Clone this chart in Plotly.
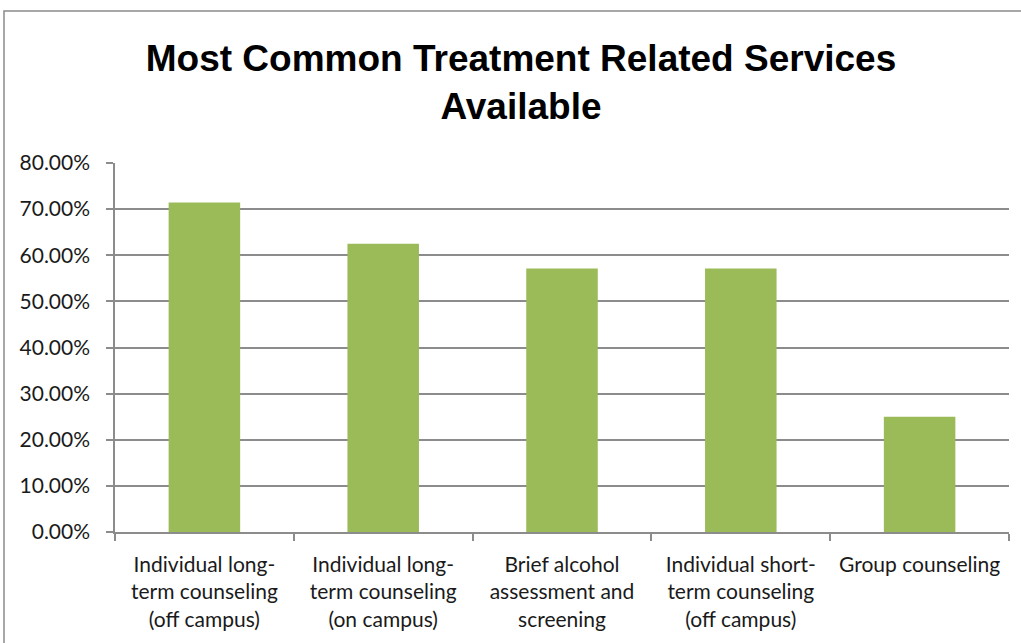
import plotly.graph_objects as go

categories = [
    "Individual long-<br>term counseling<br>(off campus)",
    "Individual long-<br>term counseling<br>(on campus)",
    "Brief alcohol<br>assessment and<br>screening",
    "Individual short-<br>term counseling<br>(off campus)",
    "Group counseling",
]
shares = [0.7143, 0.6250, 0.5714, 0.5714, 0.2500]
y_ticks = [0.0, 0.1, 0.2, 0.3, 0.4, 0.5, 0.6, 0.7, 0.8]

W, H = 1021, 643
L, R, T, B = 115, 12, 163, 111
plot_w = W - L - R
plot_h = H - T - B

grid = "#8c8c8c"
base_font = "Lato, Carlito, Calibri, sans-serif"

fig = go.Figure(
    go.Bar(
        x=categories,
        y=shares,
        marker=dict(color="#9bbb59", line=dict(width=0)),
        width=0.4,
    )
)

fig.update_layout(
    width=W,
    height=H,
    margin=dict(l=L, r=R, t=T, b=B),
    paper_bgcolor="white",
    plot_bgcolor="white",
    showlegend=False,
    title=dict(
        text="Most Common Treatment Related Services<br>Available",
        font=dict(family="Liberation Sans, Arial, sans-serif", size=37, color="black", weight="bold"),
        x=521 / W,
        xanchor="center",
        xref="container",
        y=1 - 71 / H,
        yanchor="middle",
    ),
    font=dict(family=base_font, size=21, color="#1a1a1a"),
)

fig.update_yaxes(
    range=[0, 0.8],
    tickvals=y_ticks,
    tickformat=".2%",
    tickfont=dict(family=base_font, size=21, color="#1a1a1a"),
    showgrid=True,
    gridcolor=grid,
    gridwidth=1.5,
    showline=True,
    linecolor=grid,
    linewidth=1.5,
    ticks="outside",
    ticklen=7,
    tickcolor=grid,
    tickwidth=1.5,
    ticklabelstandoff=12,
    zeroline=False,
    fixedrange=True,
)

fig.update_xaxes(
    showline=True,
    linecolor=grid,
    linewidth=1.5,
    ticks="outside",
    tickson="boundaries",
    ticklen=7,
    tickcolor=grid,
    tickwidth=1.5,
    tickangle=0,
    tickfont=dict(family=base_font, size=21, color="#1a1a1a"),
    ticklabelstandoff=13,
    fixedrange=True,
)

# chart frame (top and left edges visible in the page)
fx0 = (4 - L) / plot_w
fy1 = (H - B - 11) / plot_h
fig.add_shape(
    type="rect",
    xref="paper", yref="paper",
    x0=fx0, x1=(W + 20 - L) / plot_w,
    y0=-(B + 20) / plot_h, y1=fy1,
    line=dict(color="#8a8a8a", width=1.5),
    fillcolor="rgba(0,0,0,0)",
    layer="below",
)

fig.write_html("out.html")
